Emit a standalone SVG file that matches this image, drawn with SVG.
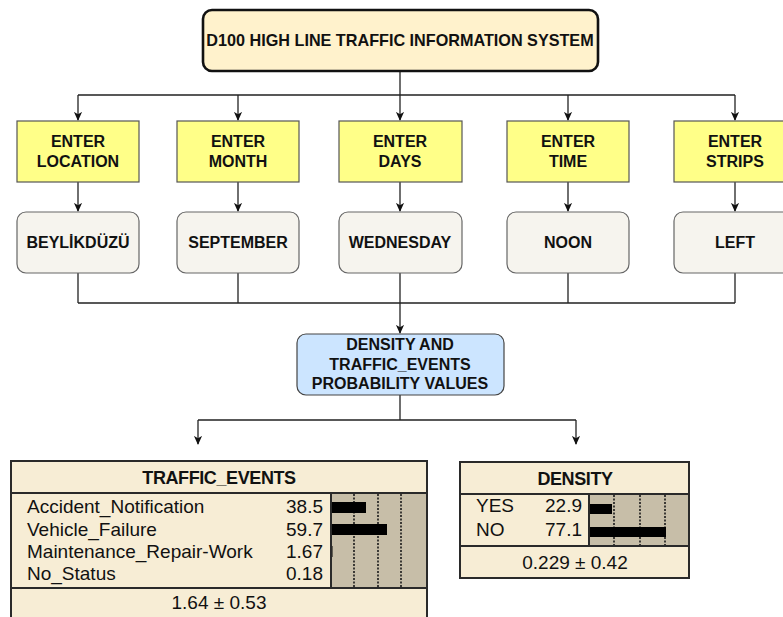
<svg xmlns="http://www.w3.org/2000/svg" width="783" height="617" viewBox="0 0 783 617">
  <defs>
    <marker id="arrow" viewBox="0 0 10 10" refX="9" refY="5" markerWidth="9" markerHeight="9" markerUnits="userSpaceOnUse" orient="auto">
      <path d="M0,0.5 L10,5 L0,9.5 L2.5,5 Z" fill="#111"/>
    </marker>
    <style>
      .lbl { font-family: "Liberation Sans", Arial, sans-serif; font-weight: bold; font-size: 16px; fill: #111; text-anchor: middle; }
      .title { font-size: 16.2px; }
      .wire { fill: none; stroke: #222; stroke-width: 1.3; }
      .input { fill: #ffff88; stroke: #555; stroke-width: 1.2; }
      .value { fill: #f6f4ee; stroke: #666; stroke-width: 1.2; }
      .result { fill: #cce5ff; stroke: #444; stroke-width: 1.2; }
      .tbl { fill: #f7edd5; stroke: #2a2a2a; stroke-width: 2; }
      .sep { stroke: #2a2a2a; stroke-width: 2; }
      .barbg { fill: #c7bea8; }
      .grid { stroke: #1a1a1a; stroke-width: 1.6; stroke-dasharray: 2 1.5; }
      .bar { fill: #000; }
      .t { font-family: "Liberation Sans", Arial, sans-serif; font-size: 19px; fill: #111; }
      .th { font-family: "Liberation Sans", Arial, sans-serif; font-size: 18px; font-weight: bold; fill: #111; text-anchor: middle; letter-spacing: -0.4px; }
    </style>
  </defs>

  <!-- connectors -->
  <g id="connectors">
    <path class="wire" d="M400,71 V95 M78,95 H735"/>
    <path class="wire" d="M78,95 V120" marker-end="url(#arrow)"/>
    <path class="wire" d="M238,95 V120" marker-end="url(#arrow)"/>
    <path class="wire" d="M400,95 V120" marker-end="url(#arrow)"/>
    <path class="wire" d="M568,95 V120" marker-end="url(#arrow)"/>
    <path class="wire" d="M735,95 V120" marker-end="url(#arrow)"/>

    <path class="wire" d="M78,182 V211" marker-end="url(#arrow)"/>
    <path class="wire" d="M238,182 V211" marker-end="url(#arrow)"/>
    <path class="wire" d="M400,182 V211" marker-end="url(#arrow)"/>
    <path class="wire" d="M568,182 V211" marker-end="url(#arrow)"/>
    <path class="wire" d="M735,182 V211" marker-end="url(#arrow)"/>

    <path class="wire" d="M78,273 V303 M238,273 V303 M568,273 V303 M735,273 V303 M78,303 H735"/>
    <path class="wire" d="M400,273 V333" marker-end="url(#arrow)"/>

    <path class="wire" d="M400,395 V420 M198,420 H576"/>
    <path class="wire" d="M198,420 V444" marker-end="url(#arrow)"/>
    <path class="wire" d="M576,420 V444" marker-end="url(#arrow)"/>
  </g>

  <!-- top system node -->
  <g id="system">
    <rect x="203" y="10" width="395" height="61" rx="9" fill="#fff2cc" stroke="#111" stroke-width="2.6"/>
    <text class="lbl title" x="400" y="46">D100 HIGH LINE TRAFFIC INFORMATION SYSTEM</text>
  </g>

  <!-- input prompts -->
  <g id="enter-location">
    <rect class="input" x="17" y="121" width="122" height="61"/>
    <text class="lbl" x="78" y="147">ENTER</text>
    <text class="lbl" x="78" y="167">LOCATION</text>
  </g>
  <g id="enter-month">
    <rect class="input" x="177" y="121" width="122" height="61"/>
    <text class="lbl" x="238" y="147">ENTER</text>
    <text class="lbl" x="238" y="167">MONTH</text>
  </g>
  <g id="enter-days">
    <rect class="input" x="339" y="121" width="123" height="61"/>
    <text class="lbl" x="400" y="147">ENTER</text>
    <text class="lbl" x="400" y="167">DAYS</text>
  </g>
  <g id="enter-time">
    <rect class="input" x="507" y="121" width="122" height="61"/>
    <text class="lbl" x="568" y="147">ENTER</text>
    <text class="lbl" x="568" y="167">TIME</text>
  </g>
  <g id="enter-strips">
    <rect class="input" x="674" y="121" width="122" height="61"/>
    <text class="lbl" x="735" y="147">ENTER</text>
    <text class="lbl" x="735" y="167">STRIPS</text>
  </g>

  <!-- selected values -->
  <g id="value-location">
    <rect class="value" x="17" y="212" width="122" height="61" rx="9"/>
    <text class="lbl" x="78" y="248">BEYLİKDÜZÜ</text>
  </g>
  <g id="value-month">
    <rect class="value" x="177" y="212" width="122" height="61" rx="9"/>
    <text class="lbl" x="238" y="248">SEPTEMBER</text>
  </g>
  <g id="value-days">
    <rect class="value" x="339" y="212" width="123" height="61" rx="9"/>
    <text class="lbl" x="400" y="248">WEDNESDAY</text>
  </g>
  <g id="value-time">
    <rect class="value" x="507" y="212" width="122" height="61" rx="9"/>
    <text class="lbl" x="568" y="248">NOON</text>
  </g>
  <g id="value-strips">
    <rect class="value" x="674" y="212" width="122" height="61" rx="9"/>
    <text class="lbl" x="735" y="248">LEFT</text>
  </g>

  <!-- result node -->
  <g id="probabilities">
    <rect class="result" x="297" y="334" width="207" height="61" rx="9"/>
    <text class="lbl" x="400" y="350">DENSITY AND</text>
    <text class="lbl" x="400" y="370">TRAFFIC_EVENTS</text>
    <text class="lbl" x="400" y="389">PROBABILITY VALUES</text>
  </g>

  <!-- TRAFFIC_EVENTS belief table -->
  <g id="traffic-events">
    <rect class="tbl" x="11" y="461" width="416" height="170"/>
    <rect class="barbg" x="331" y="493" width="96" height="95"/>
    <line class="grid" x1="354" y1="494" x2="354" y2="587"/>
    <line class="grid" x1="378" y1="494" x2="378" y2="587"/>
    <line class="grid" x1="401" y1="494" x2="401" y2="587"/>
    <rect class="bar" x="331" y="502" width="35" height="11"/>
    <rect class="bar" x="331" y="524" width="56" height="11"/>
    <rect class="bar" x="331" y="546" width="1.5" height="11"/>
    <line class="sep" x1="11" y1="493" x2="427" y2="493"/>
    <line class="sep" x1="11" y1="588" x2="427" y2="588"/>
    <line class="sep" x1="331" y1="493" x2="331" y2="588"/>
    <line class="sep" x1="427" y1="461" x2="427" y2="617"/>
    <text class="th" x="219" y="484">TRAFFIC_EVENTS</text>
    <text class="t" x="27" y="513">Accident_Notification</text>
    <text class="t" x="27" y="536">Vehicle_Failure</text>
    <text class="t" x="27" y="558">Maintenance_Repair-Work</text>
    <text class="t" x="27" y="580">No_Status</text>
    <text class="t" x="323" y="513" text-anchor="end">38.5</text>
    <text class="t" x="323" y="536" text-anchor="end">59.7</text>
    <text class="t" x="323" y="558" text-anchor="end">1.67</text>
    <text class="t" x="323" y="580" text-anchor="end">0.18</text>
    <text class="t" x="219" y="609" text-anchor="middle">1.64 ± 0.53</text>
  </g>

  <!-- DENSITY belief table -->
  <g id="density">
    <rect class="tbl" x="460" y="462" width="229" height="116"/>
    <rect class="barbg" x="589" y="494" width="100" height="52"/>
    <line class="grid" x1="614" y1="495" x2="614" y2="545"/>
    <line class="grid" x1="640" y1="495" x2="640" y2="545"/>
    <line class="grid" x1="665" y1="495" x2="665" y2="545"/>
    <rect class="bar" x="589" y="504" width="23" height="10"/>
    <rect class="bar" x="589" y="527" width="77" height="10"/>
    <line class="sep" x1="460" y1="494" x2="689" y2="494"/>
    <line class="sep" x1="460" y1="546" x2="689" y2="546"/>
    <line class="sep" x1="589" y1="494" x2="589" y2="546"/>
    <rect x="460" y="462" width="229" height="116" fill="none" stroke="#2a2a2a" stroke-width="2"/>
    <text class="th" x="575" y="485">DENSITY</text>
    <text class="t" x="476" y="512">YES</text>
    <text class="t" x="476" y="536">NO</text>
    <text class="t" x="582" y="512" text-anchor="end">22.9</text>
    <text class="t" x="582" y="536" text-anchor="end">77.1</text>
    <text class="t" x="575" y="569" text-anchor="middle">0.229 ± 0.42</text>
  </g>
</svg>
